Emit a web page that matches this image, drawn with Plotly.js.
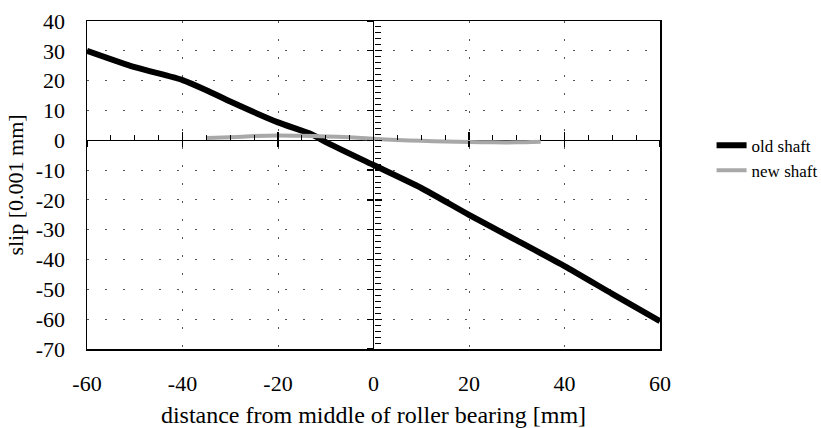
<!DOCTYPE html>
<html>
<head>
<meta charset="utf-8">
<script src="https://cdn.plot.ly/plotly-3.0.1.min.js"></script>
<style>html,body{margin:0;padding:0;background:#fff;}#chart{width:821px;height:428px;}</style>
</head>
<body>
<div id="chart"></div>
<script>
const oldX = [-60, -50, -40, -35, -30, -20, -13, -10, 0, 10, 20, 30, 40, 50, 60];
const oldY = [30, 24.5, 20.2, 16.8, 13, 6, 2, -0.6, -8.3, -16, -25, -33.6, -42.2, -51.5, -60.7];
const newX = [-35, -30, -25, -20, -15, -10, -5, 0, 5, 10, 15, 20, 25, 30, 35];
const newY = [0.8, 1.0, 1.4, 1.6, 1.5, 1.3, 1.0, 0.5, 0.1, -0.2, -0.4, -0.6, -0.7, -0.7, -0.5];
const xTicks = [-60, -40, -20, 0, 20, 40, 60];
const yTicks = [40, 30, 20, 10, 0, -10, -20, -30, -40, -50, -60, -70];

const font = "serif";
const zeroPos = 70 / 110;

const traces = [
  {x: oldX, y: oldY, name: 'old shaft', mode: 'lines', line: {color: '#000', width: 6, shape: 'spline', smoothing: 0.6}},
  {x: newX, y: newY, name: 'new shaft', mode: 'lines', line: {color: '#a8a8a8', width: 4, shape: 'spline', smoothing: 0.6}},
  {x: [0], y: [0], xaxis: 'x2', yaxis: 'y2', mode: 'markers', marker: {opacity: 0}, showlegend: false, hoverinfo: 'skip'},
  {x: [0], y: [0], xaxis: 'x3', yaxis: 'y3', mode: 'markers', marker: {opacity: 0}, showlegend: false, hoverinfo: 'skip'}
];

const layout = {
  width: 821, height: 428,
  margin: {l: 87, r: 161, t: 21, b: 79, autoexpand: false},
  paper_bgcolor: '#fff', plot_bgcolor: '#fff',
  font: {family: font, color: '#000'},
  showlegend: true,
  legend: {x: 1.09, y: 0.675, xanchor: 'left', yanchor: 'top', font: {size: 17, family: font}, bgcolor: 'rgba(0,0,0,0)'},
  xaxis: {
    range: [-60, 60], tickvals: xTicks, ticktext: xTicks.map(String),
    showgrid: true, gridcolor: '#555', gridwidth: 1, griddash: '2px,16px',
    zeroline: true, zerolinecolor: '#000', zerolinewidth: 1.5,
    showline: true, mirror: true, linecolor: '#000', linewidth: 1.5,
    ticks: '', tickfont: {size: 22, family: font}, ticklabelstandoff: 14,
    title: {text: 'distance from middle of roller bearing [mm]', font: {size: 24, family: font}, standoff: 14}
  },
  yaxis: {
    range: [-70, 40], tickvals: yTicks, ticktext: yTicks.map(String),
    showgrid: true, gridcolor: '#555', gridwidth: 1, griddash: '2px,16px',
    zeroline: true, zerolinecolor: '#000', zerolinewidth: 1.5,
    showline: true, mirror: true, linecolor: '#000', linewidth: 1.5,
    ticks: '', tickfont: {size: 22, family: font}, ticklabelstandoff: 16,
    title: {text: 'slip [0.001 mm]', font: {size: 22, family: font}, standoff: 6}
  },
  xaxis2: {
    overlaying: 'x', anchor: 'free', position: zeroPos, range: [-60, 60],
    tickvals: xTicks, ticks: 'inside', ticklen: 8, tickcolor: '#000', tickwidth: 1.2,
    minor: {dtick: 5, ticks: 'inside', ticklen: 5, tickcolor: '#000', tickwidth: 1, showgrid: false},
    showticklabels: false, showgrid: false, zeroline: false, showline: false
  },
  yaxis2: {
    overlaying: 'y', anchor: 'free', position: 0.5, range: [-70, 40],
    tickvals: yTicks, ticks: 'inside', ticklen: 7, tickcolor: '#000', tickwidth: 1.2,
    minor: {dtick: 2, ticks: 'inside', ticklen: 6, tickcolor: '#000', tickwidth: 1, showgrid: false},
    showticklabels: false, showgrid: false, zeroline: false, showline: false
  },
  xaxis3: {
    overlaying: 'x', anchor: 'free', position: zeroPos, range: [-60, 60],
    tickvals: xTicks, ticks: 'outside', ticklen: 6, tickcolor: '#000', tickwidth: 1.2,
    showticklabels: false, showgrid: false, zeroline: false, showline: false
  },
  yaxis3: {
    overlaying: 'y', anchor: 'free', position: 0.5, range: [-70, 40],
    tickvals: yTicks, ticks: 'outside', ticklen: 7, tickcolor: '#000', tickwidth: 1.2,
    showticklabels: false, showgrid: false, zeroline: false, showline: false
  }
};

Plotly.newPlot('chart', traces, layout, {staticPlot: true, displayModeBar: false});
</script>
</body>
</html>
